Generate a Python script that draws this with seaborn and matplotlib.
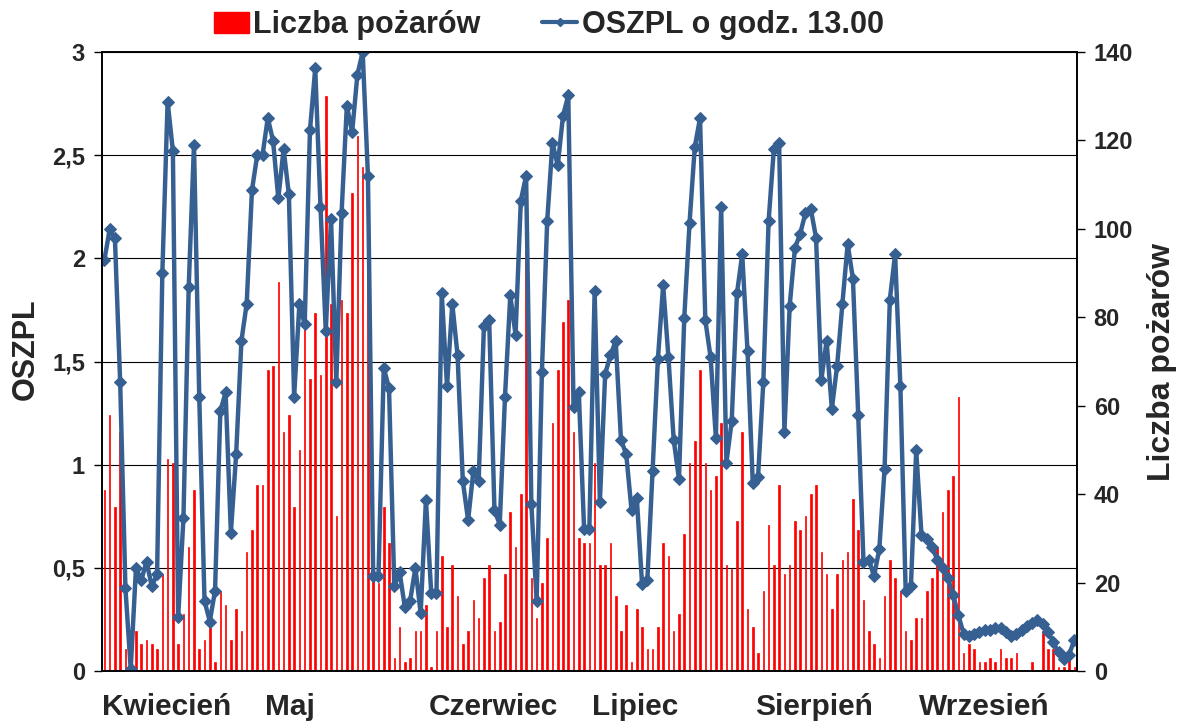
import numpy as np
import pandas as pd
import seaborn as sns
import matplotlib
matplotlib.use("Agg")
from matplotlib import pyplot as plt
from matplotlib.patches import Patch
from matplotlib.lines import Line2D

# OSZPL index at 13:00, one value per day (left axis)
oszpl = [
    1.99, 2.14, 2.10, 1.40, 0.40, 0.01, 0.50, 0.44, 0.53, 0.41,
    0.47, 1.93, 2.76, 2.52, 0.26, 0.74, 1.86, 2.55, 1.33, 0.34,
    0.24, 0.39, 1.26, 1.35, 0.67, 1.05, 1.60, 1.78, 2.33, 2.50,
    2.50, 2.68, 2.57, 2.29, 2.53, 2.31, 1.33, 1.78, 1.68, 2.62,
    2.92, 2.25, 1.65, 2.19, 1.40, 2.22, 2.74, 2.61, 2.89, 3.00,
    2.40, 0.46, 0.46, 1.47, 1.37, 0.41, 0.48, 0.31, 0.34, 0.50,
    0.28, 0.83, 0.38, 0.38, 1.83, 1.38, 1.78, 1.53, 0.92, 0.73,
    0.97, 0.92, 1.67, 1.70, 0.78, 0.71, 1.33, 1.82, 1.63, 2.28,
    2.40, 0.81, 0.34, 1.45, 2.18, 2.56, 2.45, 2.69, 2.79, 1.28,
    1.35, 0.69, 0.69, 1.84, 0.82, 1.44, 1.53, 1.60, 1.12, 1.05,
    0.78, 0.84, 0.42, 0.44, 0.97, 1.51, 1.87, 1.52, 1.12, 0.93,
    1.71, 2.17, 2.54, 2.68, 1.70, 1.52, 1.13, 2.25, 1.01, 1.21,
    1.83, 2.02, 1.55, 0.91, 0.94, 1.40, 2.18, 2.53, 2.56, 1.16,
    1.77, 2.05, 2.12, 2.22, 2.24, 2.10, 1.41, 1.60, 1.27, 1.48,
    1.78, 2.07, 1.90, 1.24, 0.53, 0.54, 0.46, 0.59, 0.98, 1.80,
    2.02, 1.38, 0.39, 0.41, 1.07, 0.66, 0.64, 0.60, 0.54, 0.50,
    0.45, 0.37, 0.27, 0.18, 0.17, 0.18, 0.19, 0.20, 0.20, 0.21,
    0.21, 0.19, 0.17, 0.18, 0.20, 0.22, 0.235, 0.245, 0.23, 0.19,
    0.14, 0.09, 0.06, 0.08, 0.15,
]

# number of fires per day (right axis)
fires = [
    41, 58, 37, 54, 5, 2, 9, 6, 7, 6,
    5, 22, 48, 47, 6, 13, 28, 41, 5, 7,
    11, 2, 18, 15, 7, 14, 9, 27, 32, 42,
    42, 68, 69, 88, 54, 58, 37, 50, 78, 66,
    81, 67, 130, 83, 35, 84, 81, 108, 121, 114,
    110, 22, 20, 37, 29, 3, 10, 2, 3, 9,
    9, 15, 1, 9, 26, 10, 24, 17, 6, 9,
    16, 12, 21, 24, 9, 11, 22, 36, 28, 40,
    95, 21, 12, 20, 30, 56, 68, 79, 84, 54,
    30, 29, 29, 47, 24, 24, 29, 17, 9, 15,
    2, 14, 10, 5, 5, 10, 29, 26, 9, 13,
    31, 47, 52, 68, 47, 41, 44, 56, 24, 23,
    34, 54, 14, 10, 4, 18, 33, 24, 42, 22,
    24, 34, 32, 35, 40, 42, 27, 22, 14, 22,
    25, 27, 39, 32, 16, 9, 6, 3, 17, 25,
    21, 18, 9, 7, 12, 12, 18, 21, 28, 36,
    41, 44, 62, 4, 6, 5, 2, 2, 3, 2,
    5, 3, 3, 4, 0, 0, 2, 0, 9, 5,
    5, 1, 1, 3, 1,
]

months = ["Kwiecień", "Maj", "Czerwiec", "Lipiec", "Sierpień", "Wrzesień"]
month_start = [0, 31, 62, 93, 124, 155]

left_ticks = [0, 0.5, 1, 1.5, 2, 2.5, 3]
left_labels = ["0", "0,5", "1", "1,5", "2", "2,5", "3"]
right_ticks = [0, 20, 40, 60, 80, 100, 120, 140]

line_color = "#376092"
bar_color = "#FF0000"

df = pd.DataFrame({"day": np.arange(len(oszpl)), "oszpl": oszpl, "fires": fires})

sns.set_style("white")
plt.rcParams["font.family"] = ["Liberation Sans", "DejaVu Sans"]
plt.rcParams["font.weight"] = "bold"

fig = plt.figure(figsize=(11.8, 7.22), dpi=100)
ax_bar = fig.add_axes([0.0862, 0.0706, 0.8265, 0.8574])

# grid lines belong to the left (OSZPL) scale, drawn behind the bars
for t in left_ticks[1:]:
    ax_bar.axhline(t * 140 / 3, color="black", lw=0.8, zorder=0)

sns.barplot(data=df, x="day", y="fires", color=bar_color, width=0.3,
            saturation=1, linewidth=0.5, edgecolor=bar_color, ax=ax_bar, zorder=2)
ax_bar.set_ylim(0, 140)

ax_line = ax_bar.twinx()
sns.lineplot(data=df, x="day", y="oszpl", color=line_color, lw=3.2,
             marker="D", markersize=6, markeredgecolor=line_color, ax=ax_line)
ax_line.set_ylim(0, 3)
ax_line.yaxis.tick_left()
ax_line.yaxis.set_label_position("left")
ax_line.set_yticks(left_ticks)
ax_line.set_yticklabels(left_labels)
ax_line.set_ylabel("OSZPL", fontsize=22, fontweight="bold", labelpad=8)
ax_line.yaxis.set_label_coords(-0.062, 0.52)

# twinx puts the original axis on the left, move the fire counts back right
ax_bar.yaxis.tick_right()
ax_bar.yaxis.set_label_position("right")
ax_bar.set_yticks(right_ticks)
ax_bar.set_ylabel("Liczba pożarów", fontsize=23, fontweight="bold", labelpad=10)

ax_bar.set_xlim(-0.5, len(oszpl) - 0.5)
ax_line.set_xlim(-0.5, len(oszpl) - 0.5)
ax_bar.set_xticks([m - 0.5 for m in month_start])
ax_bar.set_xticklabels(months, ha="left")
ax_bar.set_xlabel("")
ax_line.set_xlabel("")

for a in (ax_bar, ax_line):
    for s in a.spines.values():
        s.set_color("black")
        s.set_linewidth(1.2)
    a.tick_params(axis="both", which="major", direction="out", length=6,
                  width=1, color="black", labelsize=17, pad=6)
for lab in ax_bar.get_xticklabels():
    lab.set_fontsize(21.5)
    lab.set_fontweight("bold")
ax_bar.tick_params(axis="x", pad=10)

handles = [
    Patch(facecolor=bar_color, edgecolor=bar_color),
    Line2D([0], [0], color=line_color, lw=3, marker="D", markersize=4),
]
fig.legend(handles, ["Liczba pożarów", "OSZPL o godz. 13.00"], loc="center",
           bbox_to_anchor=(0.465, 1 - 25 / 722), ncol=2, frameon=False,
           prop={"size": 22, "weight": "bold"}, handlelength=1.15,
           handletextpad=0.15, columnspacing=2.0)

fig.savefig("out.png", dpi=100)
